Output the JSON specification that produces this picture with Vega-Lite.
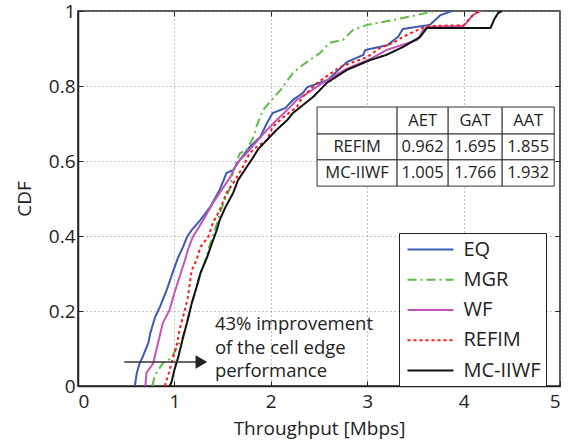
{
  "$schema": "https://vega.github.io/schema/vega-lite/v6.json",
  "width": 482,
  "height": 375,
  "autosize": "none",
  "padding": {"left": 78, "top": 11, "right": 21, "bottom": 57},
  "config": {
    "font": "Open Sans",
    "view": {"stroke": "#222", "strokeWidth": 1.5},
    "axis": {
      "labelFont": "Open Sans", "titleFont": "Open Sans",
      "labelFontSize": 19, "titleFontSize": 19, "titleFontWeight": "normal",
      "labelColor": "#222", "titleColor": "#222",
      "domainColor": "#222", "domainWidth": 1.5,
      "tickColor": "#222", "tickWidth": 1, "tickSize": -5,
      "gridColor": "#888", "gridDash": [1, 3], "gridWidth": 1
    },
    "legend": {"labelFont": "Open Sans"}
  },
  "resolve": {"axis": {"x": "independent", "y": "independent"}},
  "datasets": {
    "cdf": [
      {"series": "EQ", "x": 0.59, "y": 0.0}, {"series": "EQ", "x": 0.61, "y": 0.035}, {"series": "EQ", "x": 0.64, "y": 0.061}, {"series": "EQ", "x": 0.67, "y": 0.077}, {"series": "EQ", "x": 0.73, "y": 0.115}, {"series": "EQ", "x": 0.75, "y": 0.141}, {"series": "EQ", "x": 0.80, "y": 0.184}, {"series": "EQ", "x": 0.85, "y": 0.211}, {"series": "EQ", "x": 0.92, "y": 0.256}, {"series": "EQ", "x": 0.98, "y": 0.301}, {"series": "EQ", "x": 1.04, "y": 0.344}, {"series": "EQ", "x": 1.09, "y": 0.371}, {"series": "EQ", "x": 1.13, "y": 0.397}, {"series": "EQ", "x": 1.18, "y": 0.416}, {"series": "EQ", "x": 1.27, "y": 0.443}, {"series": "EQ", "x": 1.37, "y": 0.477}, {"series": "EQ", "x": 1.47, "y": 0.523}, {"series": "EQ", "x": 1.54, "y": 0.568}, {"series": "EQ", "x": 1.61, "y": 0.576}, {"series": "EQ", "x": 1.68, "y": 0.603}, {"series": "EQ", "x": 1.78, "y": 0.637}, {"series": "EQ", "x": 1.89, "y": 0.664}, {"series": "EQ", "x": 1.96, "y": 0.701}, {"series": "EQ", "x": 2.02, "y": 0.728}, {"series": "EQ", "x": 2.15, "y": 0.741}, {"series": "EQ", "x": 2.23, "y": 0.763}, {"series": "EQ", "x": 2.33, "y": 0.781}, {"series": "EQ", "x": 2.38, "y": 0.797}, {"series": "EQ", "x": 2.59, "y": 0.816}, {"series": "EQ", "x": 2.79, "y": 0.864}, {"series": "EQ", "x": 2.96, "y": 0.883}, {"series": "EQ", "x": 2.98, "y": 0.896}, {"series": "EQ", "x": 3.21, "y": 0.909}, {"series": "EQ", "x": 3.32, "y": 0.931}, {"series": "EQ", "x": 3.37, "y": 0.952}, {"series": "EQ", "x": 3.65, "y": 0.963}, {"series": "EQ", "x": 3.76, "y": 0.989}, {"series": "EQ", "x": 3.88, "y": 1.0},
      {"series": "MGR", "x": 0.77, "y": 0.0}, {"series": "MGR", "x": 0.80, "y": 0.03}, {"series": "MGR", "x": 0.88, "y": 0.061}, {"series": "MGR", "x": 0.97, "y": 0.075}, {"series": "MGR", "x": 1.04, "y": 0.11}, {"series": "MGR", "x": 1.09, "y": 0.13}, {"series": "MGR", "x": 1.13, "y": 0.17}, {"series": "MGR", "x": 1.18, "y": 0.22}, {"series": "MGR", "x": 1.23, "y": 0.26}, {"series": "MGR", "x": 1.27, "y": 0.30}, {"series": "MGR", "x": 1.33, "y": 0.34}, {"series": "MGR", "x": 1.36, "y": 0.37}, {"series": "MGR", "x": 1.45, "y": 0.44}, {"series": "MGR", "x": 1.47, "y": 0.461}, {"series": "MGR", "x": 1.58, "y": 0.531}, {"series": "MGR", "x": 1.61, "y": 0.576}, {"series": "MGR", "x": 1.68, "y": 0.621}, {"series": "MGR", "x": 1.75, "y": 0.629}, {"series": "MGR", "x": 1.82, "y": 0.664}, {"series": "MGR", "x": 1.85, "y": 0.691}, {"series": "MGR", "x": 1.92, "y": 0.736}, {"series": "MGR", "x": 2.07, "y": 0.781}, {"series": "MGR", "x": 2.10, "y": 0.789}, {"series": "MGR", "x": 2.23, "y": 0.835}, {"series": "MGR", "x": 2.33, "y": 0.856}, {"series": "MGR", "x": 2.51, "y": 0.888}, {"series": "MGR", "x": 2.61, "y": 0.915}, {"series": "MGR", "x": 2.75, "y": 0.923}, {"series": "MGR", "x": 2.85, "y": 0.949}, {"series": "MGR", "x": 3.0, "y": 0.963}, {"series": "MGR", "x": 3.27, "y": 0.976}, {"series": "MGR", "x": 3.62, "y": 0.995}, {"series": "MGR", "x": 3.72, "y": 1.0},
      {"series": "WF", "x": 0.70, "y": 0.0}, {"series": "WF", "x": 0.71, "y": 0.035}, {"series": "WF", "x": 0.78, "y": 0.06}, {"series": "WF", "x": 0.82, "y": 0.104}, {"series": "WF", "x": 0.88, "y": 0.168}, {"series": "WF", "x": 0.95, "y": 0.203}, {"series": "WF", "x": 1.0, "y": 0.248}, {"series": "WF", "x": 1.11, "y": 0.336}, {"series": "WF", "x": 1.14, "y": 0.363}, {"series": "WF", "x": 1.19, "y": 0.397}, {"series": "WF", "x": 1.30, "y": 0.443}, {"series": "WF", "x": 1.40, "y": 0.488}, {"series": "WF", "x": 1.49, "y": 0.523}, {"series": "WF", "x": 1.58, "y": 0.557}, {"series": "WF", "x": 1.65, "y": 0.595}, {"series": "WF", "x": 1.75, "y": 0.621}, {"series": "WF", "x": 1.84, "y": 0.648}, {"series": "WF", "x": 1.96, "y": 0.683}, {"series": "WF", "x": 2.06, "y": 0.709}, {"series": "WF", "x": 2.17, "y": 0.736}, {"series": "WF", "x": 2.27, "y": 0.763}, {"series": "WF", "x": 2.38, "y": 0.781}, {"series": "WF", "x": 2.55, "y": 0.81}, {"series": "WF", "x": 2.78, "y": 0.845}, {"series": "WF", "x": 3.04, "y": 0.873}, {"series": "WF", "x": 3.2, "y": 0.896}, {"series": "WF", "x": 3.52, "y": 0.923}, {"series": "WF", "x": 3.58, "y": 0.949}, {"series": "WF", "x": 3.62, "y": 0.957}, {"series": "WF", "x": 4.0, "y": 0.96}, {"series": "WF", "x": 4.05, "y": 0.975}, {"series": "WF", "x": 4.10, "y": 0.99}, {"series": "WF", "x": 4.18, "y": 1.0},
      {"series": "REFIM", "x": 0.90, "y": 0.0}, {"series": "REFIM", "x": 0.93, "y": 0.024}, {"series": "REFIM", "x": 0.97, "y": 0.061}, {"series": "REFIM", "x": 1.03, "y": 0.115}, {"series": "REFIM", "x": 1.06, "y": 0.157}, {"series": "REFIM", "x": 1.11, "y": 0.203}, {"series": "REFIM", "x": 1.14, "y": 0.237}, {"series": "REFIM", "x": 1.18, "y": 0.309}, {"series": "REFIM", "x": 1.23, "y": 0.336}, {"series": "REFIM", "x": 1.27, "y": 0.371}, {"series": "REFIM", "x": 1.35, "y": 0.397}, {"series": "REFIM", "x": 1.40, "y": 0.435}, {"series": "REFIM", "x": 1.47, "y": 0.469}, {"series": "REFIM", "x": 1.54, "y": 0.515}, {"series": "REFIM", "x": 1.63, "y": 0.549}, {"series": "REFIM", "x": 1.71, "y": 0.584}, {"series": "REFIM", "x": 1.78, "y": 0.621}, {"series": "REFIM", "x": 1.85, "y": 0.637}, {"series": "REFIM", "x": 1.96, "y": 0.656}, {"series": "REFIM", "x": 2.02, "y": 0.691}, {"series": "REFIM", "x": 2.13, "y": 0.717}, {"series": "REFIM", "x": 2.27, "y": 0.744}, {"series": "REFIM", "x": 2.33, "y": 0.771}, {"series": "REFIM", "x": 2.48, "y": 0.808}, {"series": "REFIM", "x": 2.72, "y": 0.851}, {"series": "REFIM", "x": 3.0, "y": 0.877}, {"series": "REFIM", "x": 3.13, "y": 0.901}, {"series": "REFIM", "x": 3.27, "y": 0.915}, {"series": "REFIM", "x": 3.37, "y": 0.931}, {"series": "REFIM", "x": 3.52, "y": 0.949}, {"series": "REFIM", "x": 3.62, "y": 0.96}, {"series": "REFIM", "x": 4.0, "y": 0.962}, {"series": "REFIM", "x": 4.05, "y": 0.976}, {"series": "REFIM", "x": 4.10, "y": 0.99}, {"series": "REFIM", "x": 4.15, "y": 1.0},
      {"series": "MC-IIWF", "x": 0.95, "y": 0.0}, {"series": "MC-IIWF", "x": 0.97, "y": 0.01}, {"series": "MC-IIWF", "x": 1.0, "y": 0.043}, {"series": "MC-IIWF", "x": 1.04, "y": 0.077}, {"series": "MC-IIWF", "x": 1.09, "y": 0.13}, {"series": "MC-IIWF", "x": 1.13, "y": 0.168}, {"series": "MC-IIWF", "x": 1.18, "y": 0.221}, {"series": "MC-IIWF", "x": 1.23, "y": 0.264}, {"series": "MC-IIWF", "x": 1.27, "y": 0.301}, {"series": "MC-IIWF", "x": 1.34, "y": 0.344}, {"series": "MC-IIWF", "x": 1.39, "y": 0.381}, {"series": "MC-IIWF", "x": 1.44, "y": 0.416}, {"series": "MC-IIWF", "x": 1.47, "y": 0.443}, {"series": "MC-IIWF", "x": 1.53, "y": 0.477}, {"series": "MC-IIWF", "x": 1.61, "y": 0.515}, {"series": "MC-IIWF", "x": 1.66, "y": 0.549}, {"series": "MC-IIWF", "x": 1.75, "y": 0.584}, {"series": "MC-IIWF", "x": 1.82, "y": 0.611}, {"series": "MC-IIWF", "x": 1.87, "y": 0.632}, {"series": "MC-IIWF", "x": 1.96, "y": 0.656}, {"series": "MC-IIWF", "x": 2.06, "y": 0.683}, {"series": "MC-IIWF", "x": 2.17, "y": 0.709}, {"series": "MC-IIWF", "x": 2.23, "y": 0.728}, {"series": "MC-IIWF", "x": 2.44, "y": 0.771}, {"series": "MC-IIWF", "x": 2.58, "y": 0.808}, {"series": "MC-IIWF", "x": 2.79, "y": 0.843}, {"series": "MC-IIWF", "x": 3.03, "y": 0.869}, {"series": "MC-IIWF", "x": 3.2, "y": 0.883}, {"series": "MC-IIWF", "x": 3.37, "y": 0.904}, {"series": "MC-IIWF", "x": 3.55, "y": 0.931}, {"series": "MC-IIWF", "x": 3.62, "y": 0.955}, {"series": "MC-IIWF", "x": 4.28, "y": 0.955}, {"series": "MC-IIWF", "x": 4.32, "y": 0.979}, {"series": "MC-IIWF", "x": 4.36, "y": 0.995}, {"series": "MC-IIWF", "x": 4.40, "y": 1.0}
    ],
    "cells": [
      {"x": 2.48, "x2": 3.31, "y": 0.744, "y2": 0.672, "cx": 2.895, "cy": 0.708, "label": ""},
      {"x": 3.31, "x2": 3.84, "y": 0.744, "y2": 0.672, "cx": 3.575, "cy": 0.708, "label": "AET"},
      {"x": 3.84, "x2": 4.40, "y": 0.744, "y2": 0.672, "cx": 4.12, "cy": 0.708, "label": "GAT"},
      {"x": 4.40, "x2": 4.94, "y": 0.744, "y2": 0.672, "cx": 4.67, "cy": 0.708, "label": "AAT"},
      {"x": 2.48, "x2": 3.31, "y": 0.672, "y2": 0.603, "cx": 2.895, "cy": 0.6375, "label": "REFIM"},
      {"x": 3.31, "x2": 3.84, "y": 0.672, "y2": 0.603, "cx": 3.575, "cy": 0.6375, "label": "0.962"},
      {"x": 3.84, "x2": 4.40, "y": 0.672, "y2": 0.603, "cx": 4.12, "cy": 0.6375, "label": "1.695"},
      {"x": 4.40, "x2": 4.94, "y": 0.672, "y2": 0.603, "cx": 4.67, "cy": 0.6375, "label": "1.855"},
      {"x": 2.48, "x2": 3.31, "y": 0.603, "y2": 0.533, "cx": 2.895, "cy": 0.568, "label": "MC-IIWF"},
      {"x": 3.31, "x2": 3.84, "y": 0.603, "y2": 0.533, "cx": 3.575, "cy": 0.568, "label": "1.005"},
      {"x": 3.84, "x2": 4.40, "y": 0.603, "y2": 0.533, "cx": 4.12, "cy": 0.568, "label": "1.766"},
      {"x": 4.40, "x2": 4.94, "y": 0.603, "y2": 0.533, "cx": 4.67, "cy": 0.568, "label": "1.932"}
    ],
    "note": [
      {"x": 1.42, "y": 0.165, "label": "43% improvement"},
      {"x": 1.42, "y": 0.102, "label": "of the cell edge"},
      {"x": 1.42, "y": 0.040, "label": "performance"}
    ],
    "arrow": [
      {"x": 0.48, "x2": 1.28, "y": 0.064}
    ]
  },
  "layer": [
    {
      "data": {"name": "cdf"},
      "mark": {"type": "line", "strokeWidth": 2, "clip": true},
      "encoding": {
        "x": {"field": "x", "type": "quantitative",
              "scale": {"domain": [0, 5], "nice": false},
              "axis": {"title": "Throughput [Mbps]", "values": [0, 1, 2, 3, 4, 5], "format": "d", "labelPadding": 11, "titlePadding": 8}},
        "y": {"field": "y", "type": "quantitative",
              "scale": {"domain": [0, 1], "nice": false},
              "axis": {"title": "CDF", "values": [0, 0.2, 0.4, 0.6, 0.8, 1], "format": "~g", "labelPadding": 8, "titlePadding": 14}},
        "color": {"field": "series", "type": "nominal",
                  "scale": {"domain": ["EQ", "MGR", "WF", "REFIM", "MC-IIWF"],
                            "range": ["#3b5bb0", "#5dbb46", "#c555b5", "#ff1a1a", "#111111"]},
                  "legend": {"title": null, "orient": "none", "legendX": 321, "legendY": 222,
                             "strokeColor": "#222", "fillColor": "white", "padding": 5.5,
                             "labelFontSize": 20, "labelColor": "#222", "labelOffset": 37,
                             "labelExpr": "datum.label + '\u00a0\u00a0'",
                             "symbolType": "M-0.8,0H3.8", "symbolSize": 400, "symbolStrokeWidth": 2,
                             "rowPadding": 9.25}},
        "strokeDash": {"field": "series", "type": "nominal",
                       "scale": {"domain": ["EQ", "MGR", "WF", "REFIM", "MC-IIWF"],
                                 "range": [[1, 0], [9, 4, 2, 4], [1, 0], [3, 3], [1, 0]]},
                       "legend": null},
        "order": {"field": "y"}
      }
    },
    {
      "data": {"name": "cells"},
      "mark": {"type": "rect", "fill": "white", "stroke": "#333", "strokeWidth": 1},
      "encoding": {
        "x": {"field": "x", "type": "quantitative",
              "axis": {"orient": "top", "labels": false, "title": null, "domain": false, "grid": false, "values": [1, 2, 3, 4]}},
        "x2": {"field": "x2"},
        "y": {"field": "y", "type": "quantitative",
              "axis": {"orient": "right", "labels": false, "title": null, "domain": false, "grid": false, "values": [0.2, 0.4, 0.6, 0.8]}},
        "y2": {"field": "y2"}
      }
    },
    {
      "data": {"name": "cells"},
      "mark": {"type": "text", "fontSize": 16.5, "color": "#222", "align": "center", "baseline": "middle"},
      "encoding": {
        "x": {"field": "cx", "type": "quantitative", "axis": null},
        "y": {"field": "cy", "type": "quantitative", "axis": null},
        "text": {"field": "label"}
      }
    },
    {
      "data": {"name": "arrow"},
      "mark": {"type": "rule", "color": "#333", "strokeWidth": 1.5},
      "encoding": {
        "x": {"field": "x", "type": "quantitative", "axis": null},
        "x2": {"field": "x2"},
        "y": {"field": "y", "type": "quantitative", "axis": null}
      }
    },
    {
      "data": {"name": "arrow"},
      "mark": {"type": "point", "shape": "triangle-right", "filled": true, "color": "#222", "size": 180, "opacity": 1},
      "encoding": {
        "x": {"field": "x2", "type": "quantitative", "axis": null},
        "y": {"field": "y", "type": "quantitative", "axis": null}
      }
    },
    {
      "data": {"name": "note"},
      "mark": {"type": "text", "fontSize": 18.5, "color": "#222", "align": "left", "baseline": "middle"},
      "encoding": {
        "x": {"field": "x", "type": "quantitative", "axis": null},
        "y": {"field": "y", "type": "quantitative", "axis": null},
        "text": {"field": "label"}
      }
    }
  ]
}
